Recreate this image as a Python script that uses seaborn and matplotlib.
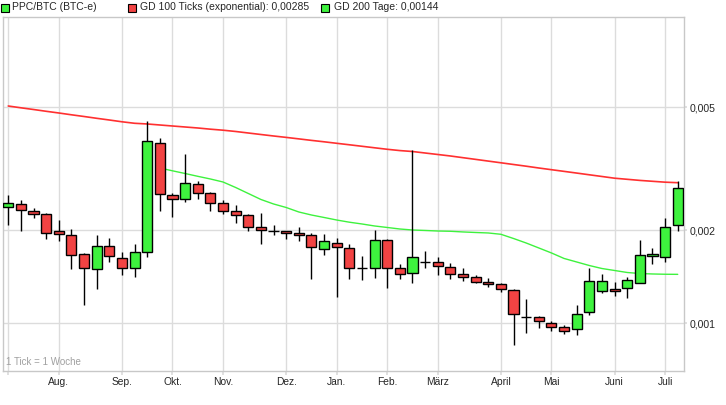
import numpy as np
import pandas as pd
import seaborn as sns
import matplotlib.pyplot as plt
from matplotlib.patches import Rectangle
from matplotlib.ticker import NullLocator

# weekly candles PPC/BTC (BTC-e), one per week from early July to early July
open_ = [0.002374, 0.002427, 0.002304, 0.002253, 0.001985, 0.001927, 0.001672, 0.001495, 0.001775, 0.001623,
         0.001507, 0.001697, 0.003824, 0.002607, 0.002519, 0.002817, 0.002635, 0.002445, 0.002309, 0.002236,
         0.002045, 0.001992, 0.001989, 0.001960, 0.001927, 0.001736, 0.001815, 0.001749, 0.001513, 0.001507,
         0.001856, 0.001507, 0.001451, 0.001583, 0.001575, 0.001518, 0.001444, 0.001409, 0.001360, 0.001337,
         0.001279, 0.001050, 0.001046, 0.001000, 0.000971, 0.000956, 0.001085, 0.001269, 0.001291, 0.001298,
         0.001353, 0.001648, 0.001643, 0.002076]
close = [0.002445, 0.002321, 0.002253, 0.001956, 0.001941, 0.001660, 0.001507, 0.001783, 0.001648, 0.001507,
         0.001697, 0.003881, 0.002615, 0.002519, 0.002838, 0.002635, 0.002445, 0.002304, 0.002236, 0.002045,
         0.002000, 0.001992, 0.001960, 0.001927, 0.001762, 0.001846, 0.001762, 0.001507, 0.001513, 0.001856,
         0.001507, 0.001441, 0.001635, 0.001583, 0.001536, 0.001441, 0.001409, 0.001363, 0.001337, 0.001288,
         0.001069, 0.001050, 0.001015, 0.000971, 0.000942, 0.001069, 0.001367, 0.001367, 0.001269, 0.001378,
         0.001660, 0.001672, 0.002054, 0.002735]
high = [0.002601, 0.002506, 0.002356, 0.002270, 0.002159, 0.002015, 0.001685, 0.001927, 0.001884, 0.001701,
        0.001806, 0.004515, 0.003969, 0.002635, 0.003531, 0.002887, 0.002654, 0.002506, 0.002415, 0.002253,
        0.002275, 0.002076, 0.001994, 0.002045, 0.001956, 0.001945, 0.001884, 0.001802, 0.001651, 0.002004,
        0.001878, 0.001556, 0.003638, 0.001714, 0.001635, 0.001571, 0.001513, 0.001433, 0.001398, 0.001347,
        0.001288, 0.001199, 0.001054, 0.001020, 0.000985, 0.001146, 0.001507, 0.001441, 0.001357, 0.001412,
        0.001860, 0.001749, 0.002187, 0.002887]
low = [0.002076, 0.001994, 0.002197, 0.001878, 0.001851, 0.001502, 0.001149, 0.001294, 0.001583, 0.001436,
       0.001415, 0.001643, 0.002304, 0.002213, 0.002475, 0.002519, 0.002314, 0.002253, 0.002116, 0.001985,
       0.001810, 0.001935, 0.001878, 0.001851, 0.001394, 0.001667, 0.001219, 0.001394, 0.001381, 0.001405,
       0.001304, 0.001394, 0.001353, 0.001507, 0.001436, 0.001394, 0.001374, 0.001353, 0.001308, 0.001266,
       0.000853, 0.000932, 0.000968, 0.000942, 0.000921, 0.000917, 0.001066, 0.001256, 0.001228, 0.001210,
       0.001353, 0.001559, 0.001583, 0.001994]

# GD 100 Ticks (exponential), one value per candle
gd100 = [0.005049, 0.004982, 0.004919, 0.004854, 0.004793, 0.004729, 0.004669, 0.004607, 0.004549, 0.004489,
         0.004439, 0.004416, 0.004383, 0.004350, 0.004318, 0.004286, 0.004248, 0.004216, 0.004176, 0.004129,
         0.004083, 0.004038, 0.003996, 0.003952, 0.003908, 0.003867, 0.003824, 0.003782, 0.003740, 0.003698,
         0.003657, 0.003622, 0.003597, 0.003557, 0.003518, 0.003479, 0.003435, 0.003392, 0.003349, 0.003307,
         0.003265, 0.003224, 0.003181, 0.003141, 0.003102, 0.003063, 0.003024, 0.002986, 0.002948, 0.002924,
         0.002900, 0.002881, 0.002862, 0.002851]
# GD 200 Tage, starts with candle 12
gd200_start = 12
gd200 = [0.003181, 0.003115, 0.003053, 0.002990, 0.002931, 0.002866, 0.002751, 0.002631, 0.002516, 0.002433,
         0.002370, 0.002292, 0.002241, 0.002200, 0.002159, 0.002124, 0.002096, 0.002065, 0.002042, 0.002019,
         0.002004, 0.001997, 0.001989, 0.001985, 0.001975, 0.001967, 0.001960, 0.001941, 0.001881, 0.001819,
         0.001753, 0.001689, 0.001621, 0.001579, 0.001538, 0.001504, 0.001482, 0.001460, 0.001449, 0.001444,
         0.001441, 0.001440]

# first candle of each month
month_pos = [0, 4, 9, 13, 17, 22, 26, 30, 34, 39, 43, 48, 52]
month_lbl = ["", "Aug.", "Sep.", "Okt.", "Nov.", "Dez.", "Jan.", "Feb.", "März", "April", "Mai", "Juni", "Juli"]
y_ticks = [0.001, 0.002, 0.005]
y_lbl = ["0,001", "0,002", "0,005"]

sns.set_theme(style="white")
plt.rcParams["font.family"] = ["Liberation Sans", "DejaVu Sans"]

GREEN = "#3ef23e"
RED = "#f24343"
GRID = "#dcdcdc"

W, H = 726, 405
fig = plt.figure(figsize=(W / 100, H / 100), dpi=100)
ax = fig.add_axes([2.7 / W, 1 - 371 / H, (684.3 - 2.7) / W, (371 - 17) / H])
ax.set_yscale("log")

df = pd.DataFrame({"open": open_, "close": close, "high": high, "low": low})
df["x"] = np.arange(len(df))
df["bottom"] = df[["open", "close"]].min(axis=1)
df["height"] = (df["close"] - df["open"]).abs()
colors = np.where(df["close"] > df["open"], GREEN, np.where(df["close"] < df["open"], RED, "black"))

# moving averages
sns.lineplot(x=df["x"], y=gd100, color="#ff3030", lw=1.2, ax=ax, zorder=1)
sns.lineplot(x=df["x"].iloc[gd200_start:].values, y=gd200, color=GREEN, lw=1.0, ax=ax, zorder=1)

# candles
ax.vlines(df["x"], df["low"], df["high"], color="black", lw=1.0, zorder=3)
ax.bar(df["x"], df["height"], bottom=df["bottom"], width=0.8, color=colors,
       edgecolor="black", linewidth=1.0, zorder=4)

ax.set_xlim(-0.44, 53.52)
ax.set_ylim(0.0007007, 0.009801)
ax.set_xlabel("")
ax.set_ylabel("")

ax.set_xticks(month_pos)
ax.set_xticklabels(month_lbl, fontsize=7.4)
ax.yaxis.tick_right()
ax.set_yticks(y_ticks)
ax.set_yticklabels(y_lbl, fontsize=7.6)
ax.yaxis.set_minor_locator(NullLocator())
ax.tick_params(axis="x", length=3, color=GRID, pad=1, bottom=True)
ax.tick_params(axis="y", length=2, color=GRID, pad=2, right=True)
ax.grid(True, color=GRID, lw=1, zorder=0)
ax.set_axisbelow(True)
for s in ax.spines.values():
    s.set_color("#c8c8c8")
    s.set_linewidth(1)

ax.text(0.005, 0.012, "1 Tick = 1 Woche", transform=ax.transAxes, fontsize=7, color="#a0a0a0",
        ha="left", va="bottom")

# legend row
legend = [(0.5, 11.7, GREEN, "PPC/BTC (BTC-e)"),
          (127.5, 140, RED, "GD 100 Ticks (exponential): 0,00285"),
          (321, 333.5, GREEN, "GD 200 Tage: 0,00144")]
for sx, tx, c, label in legend:
    fig.add_artist(Rectangle((sx / W, 1 - 11.5 / H), 8 / W, 8 / H, transform=fig.transFigure,
                             facecolor=c, edgecolor="black", lw=0.8))
    fig.text(tx / W, 1 - 7.5 / H, label, fontsize=7.5, va="center", ha="left")

fig.savefig("out.png", dpi=100)
